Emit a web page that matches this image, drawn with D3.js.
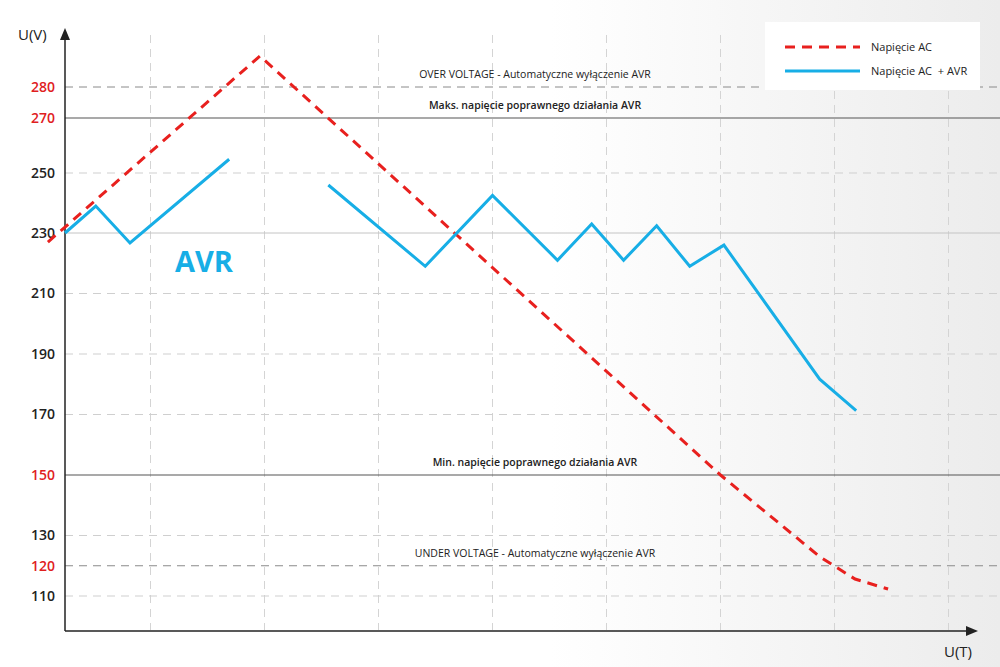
<!DOCTYPE html>
<html><head><meta charset="utf-8">
<script src="https://cdn.jsdelivr.net/npm/d3@7"></script>
<style>body{margin:0;font-family:"Open Sans",sans-serif;}</style>
</head><body><div id="chart"></div>
<script>
// levels on the voltage axis
const yTicks = [110, 120, 130, 150, 170, 190, 210, 230, 250, 270, 280];
const redTicks = [120, 150, 270, 280];
const xGrid = [1, 2, 3, 4, 5, 6, 7, 8];

// reference lines: value, style, label
const refLines = [
  { v: 280, kind: 'dash-dark', label: 'OVER VOLTAGE - Automatyczne wyłączenie AVR' },
  { v: 270, kind: 'solid-dark', label: 'Maks. napięcie poprawnego działania AVR', bold: true },
  { v: 250, kind: 'dash' }, { v: 230, kind: 'solid-light' },
  { v: 210, kind: 'dash' }, { v: 190, kind: 'dash' }, { v: 170, kind: 'dash' },
  { v: 150, kind: 'solid-dark', label: 'Min. napięcie poprawnego działania AVR', bold: true },
  { v: 130, kind: 'dash' },
  { v: 120, kind: 'dash-dark', label: 'UNDER VOLTAGE - Automatyczne wyłączenie AVR' },
  { v: 110, kind: 'dash' }
];

const acT = [0.10, 1.96, 6.0, 6.87, 7.18, 7.47];
const acV = [227, 290, 150, 123, 115.6, 112.3];

const avr1T = [0.25, 0.52, 0.82, 1.69];
const avr1V = [230, 239, 226.7, 255];
const avr2T = [2.56, 3.41, 4.0, 4.57, 4.87, 5.15, 5.44, 5.73, 6.03, 6.87, 7.19];
const avr2V = [246, 219, 242.5, 221, 233, 221, 232.4, 219, 226, 181.7, 171.3];

const W = 1000, H = 667;
const svg = d3.select('#chart').append('svg').attr('width', W).attr('height', H);

const defs = svg.append('defs');
const grad = defs.append('linearGradient').attr('id', 'bg');
grad.append('stop').attr('offset', '0%').attr('stop-color', '#ffffff');
grad.append('stop').attr('offset', '55%').attr('stop-color', '#ffffff');
grad.append('stop').attr('offset', '100%').attr('stop-color', '#ececec');
svg.append('rect').attr('width', W).attr('height', H).attr('fill', 'url(#bg)');

const x = d3.scaleLinear().domain([0.25, 8.25]).range([65, 977]);
// axis is not quite uniform in the original, so use a few anchors
const y = d3.scaleLinear().domain([110, 150, 230, 250, 270, 280]).range([596, 475, 233, 173, 118, 87]);

// vertical grid
svg.selectAll('.vg').data(xGrid).enter().append('line')
  .attr('x1', d => x(d)).attr('x2', d => x(d)).attr('y1', 35).attr('y2', 630)
  .attr('stroke', '#d4d4d4').attr('stroke-dasharray', '8,6');

const styles = {
  'dash': { c: '#cfcfcf', d: '8,6', w: 1 },
  'dash-dark': { c: '#8a8a8a', d: '8,6', w: 1 },
  'solid-dark': { c: '#555', d: null, w: 1.2 },
  'solid-light': { c: '#c4c4c4', d: null, w: 1 }
};
refLines.forEach(r => {
  const s = styles[r.kind];
  svg.append('line').attr('x1', 65).attr('x2', W).attr('y1', y(r.v)).attr('y2', y(r.v))
    .attr('stroke', s.c).attr('stroke-width', s.w).attr('stroke-dasharray', s.d);
  if (r.label) {
    svg.append('text').attr('x', 535).attr('y', y(r.v) - 9).attr('text-anchor', 'middle')
      .attr('font-size', 10.5).attr('font-weight', r.bold ? 600 : 400).attr('fill', '#222')
      .text(r.label);
  }
});

// axes
const yAxis = svg.append('g').attr('transform', 'translate(65,0)')
  .call(d3.axisLeft(y).tickValues(yTicks).tickSize(0).tickPadding(10).tickFormat(d3.format('d')));
yAxis.select('.domain').remove();
yAxis.selectAll('text').attr('font-size', 14).attr('font-weight', 600)
  .attr('font-family', 'Open Sans, sans-serif')
  .attr('fill', d => redTicks.includes(d) ? '#e0201e' : '#222');

svg.append('line').attr('x1', 65).attr('x2', 65).attr('y1', 631).attr('y2', 36).attr('stroke', '#222').attr('stroke-width', 1.5);
svg.append('path').attr('d', 'M60,40 L65,28 L70,40 Z').attr('fill', '#222');
svg.append('line').attr('x1', 65).attr('x2', 970).attr('y1', 631).attr('y2', 631).attr('stroke', '#222').attr('stroke-width', 1.5);
svg.append('path').attr('d', 'M966,626 L978,631 L966,636 Z').attr('fill', '#222');
svg.append('text').attr('x', 18).attr('y', 40).attr('font-size', 15).attr('fill', '#222').text('U(V)');
svg.append('text').attr('x', 944).attr('y', 657).attr('font-size', 15).attr('fill', '#222').text('U(T)');

const line = d3.line().x(d => x(d[0])).y(d => y(d[1]));
svg.append('path').datum(d3.zip(acT, acV)).attr('d', line).attr('fill', 'none')
  .attr('stroke', '#e8201e').attr('stroke-width', 3).attr('stroke-dasharray', '10,7');
[[avr1T, avr1V], [avr2T, avr2V]].forEach(([t, v]) => {
  svg.append('path').datum(d3.zip(t, v)).attr('d', line).attr('fill', 'none')
    .attr('stroke', '#17aee6').attr('stroke-width', 3).attr('stroke-linejoin', 'miter');
});

svg.append('text').attr('x', 175).attr('y', 272).attr('font-size', 29).attr('font-weight', 700)
  .attr('fill', '#17aee6').text('AVR');

// legend
const lg = svg.append('g');
lg.append('rect').attr('x', 765).attr('y', 22).attr('width', 215).attr('height', 68).attr('fill', '#fff');
lg.append('line').attr('x1', 785).attr('x2', 860).attr('y1', 47).attr('y2', 47)
  .attr('stroke', '#e8201e').attr('stroke-width', 3).attr('stroke-dasharray', '10,7');
lg.append('line').attr('x1', 785).attr('x2', 860).attr('y1', 71).attr('y2', 71)
  .attr('stroke', '#17aee6').attr('stroke-width', 3);
lg.append('text').attr('x', 871).attr('y', 51).attr('font-size', 11).attr('fill', '#222').text('Napięcie AC');
lg.append('text').attr('x', 871).attr('y', 75).attr('font-size', 11).attr('fill', '#222').attr('xml:space', 'preserve').text('Napięcie AC  + AVR');
</script></body></html>
